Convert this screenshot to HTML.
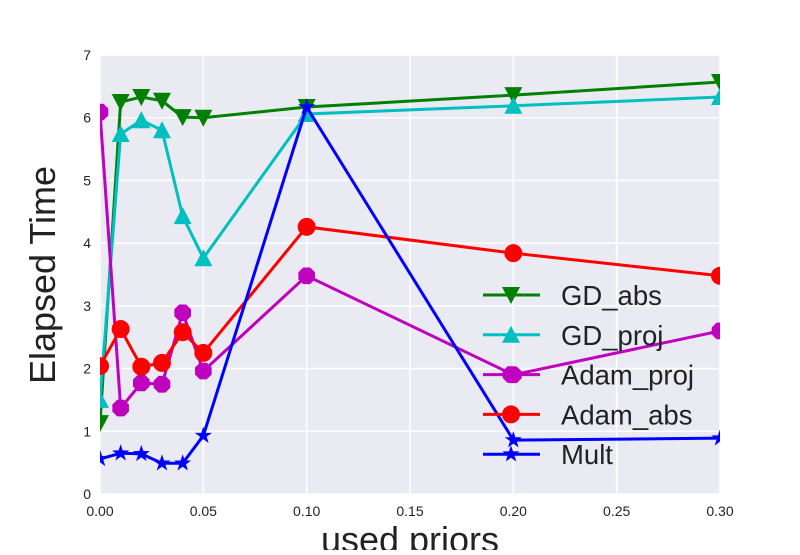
<!DOCTYPE html>
<html><head><meta charset="utf-8"><style>
body{margin:0;background:#fff;}
svg text{font-family:"Liberation Sans",sans-serif;}
</style></head><body>
<svg id="c" width="800" height="550" xmlns="http://www.w3.org/2000/svg">
<defs><clipPath id="pc"><rect x="100" y="55" width="620" height="439"/></clipPath></defs>
<rect x="100" y="55" width="620" height="439" fill="#eaeaf2"/>
<g id="grid"></g><g id="ticks"></g>
<g id="series" clip-path="url(#pc)"></g>
<g id="legend"></g>
<text x="55" y="275" font-size="36" fill="#222" text-anchor="middle" transform="rotate(-90 55 275)">Elapsed Time</text>
<text x="410" y="552" font-size="36" fill="#222" text-anchor="middle">used priors</text>
</svg>
<script>
const xs=[0,0.01,0.02,0.03,0.04,0.05,0.1,0.2,0.3];
const gdAbs=[1.13,6.25,6.33,6.27,6.01,6.0,6.17,6.36,6.57];
const gdProj=[1.5,5.74,5.96,5.8,4.43,3.76,6.06,6.19,6.33];
const adamProj=[6.09,1.37,1.77,1.75,2.89,1.96,3.48,1.9,2.6];
const adamAbs=[2.04,2.63,2.03,2.09,2.58,2.25,4.26,3.84,3.48];
const mult=[0.56,0.65,0.64,0.49,0.49,0.93,6.17,0.86,0.89];
const xTicks=["0.00","0.05","0.10","0.15","0.20","0.25","0.30"];
const yTicks=["0","1","2","3","4","5","6","7"];
const NS="http://www.w3.org/2000/svg";
const X=v=>100+v/0.3*620, Y=v=>494-v/7*439;
function mk(t,a,p){const e=document.createElementNS(NS,t);for(const k in a)e.setAttribute(k,a[k]);p.appendChild(e);return e;}
const grid=document.getElementById('grid'),ticks=document.getElementById('ticks');
xTicks.forEach(t=>{const x=X(+t);
 const l=mk('line',{x1:x,x2:x,y1:55,y2:494,stroke:'#fff','stroke-width':1.5},grid);
 
 const tx=mk('text',{x:x,y:516,'font-size':14,'text-anchor':'middle',fill:'#222'},ticks);tx.textContent=t;
 });
yTicks.forEach(t=>{const y=Y(+t);
 const l=mk('line',{x1:100,x2:720,y1:y,y2:y,stroke:'#fff','stroke-width':1.5},grid);
 
 const tx=mk('text',{x:91,y:y+5,'font-size':14,'text-anchor':'end',fill:'#222'},ticks);tx.textContent=t;
 });
function marker(type,x,y,c,p){
 if(type==='down')return mk('polygon',{points:`${x-9},${y-8} ${x+9},${y-8} ${x},${y+9}`,fill:c},p);
 if(type==='up')return mk('polygon',{points:`${x-9},${y+8} ${x+9},${y+8} ${x},${y-9}`,fill:c},p);
 if(type==='oct'){let pts=[];for(let i=0;i<8;i++){const a=Math.PI/8+i*Math.PI/4;pts.push((x+9*Math.cos(a))+','+(y+9*Math.sin(a)));}return mk('polygon',{points:pts.join(' '),fill:c},p);}
 if(type==='circle')return mk('circle',{cx:x,cy:y,r:9,fill:c},p);
 let pts=[];for(let i=0;i<10;i++){const r=i%2?3.5:9,a=-Math.PI/2+i*Math.PI/5;pts.push((x+r*Math.cos(a))+','+(y+r*Math.sin(a)));}
 return mk('polygon',{points:pts.join(' '),fill:c},p);}
const defs=[["GD_abs",gdAbs,"#008000","down"],["GD_proj",gdProj,"#00bfbf","up"],["Adam_proj",adamProj,"#bf00bf","oct"],["Adam_abs",adamAbs,"#ff0000","circle"],["Mult",mult,"#0000ff","star"]];
const sg=document.getElementById('series'),lg=document.getElementById('legend');
defs.forEach((d,i)=>{
 const g=mk('g',{},sg);
 const pl=mk('polyline',{points:xs.map((x,j)=>X(x)+','+Y(d[1][j])).join(' '),fill:'none',stroke:d[2],'stroke-width':3},g);
 
 xs.forEach((x,j)=>{const m=marker(d[3],X(x),Y(d[1][j]),d[2],g);});
 const ly=295+i*39.8;
 const le=mk('g',{},lg);
 mk('line',{x1:483,x2:540,y1:ly,y2:ly,stroke:d[2],'stroke-width':3},le);
 marker(d[3],511,ly,d[2],le);
 const t=mk('text',{x:561,y:ly+10,'font-size':27.5,fill:'#222'},le);t.textContent=d[0];
});
</script>
</body></html>
